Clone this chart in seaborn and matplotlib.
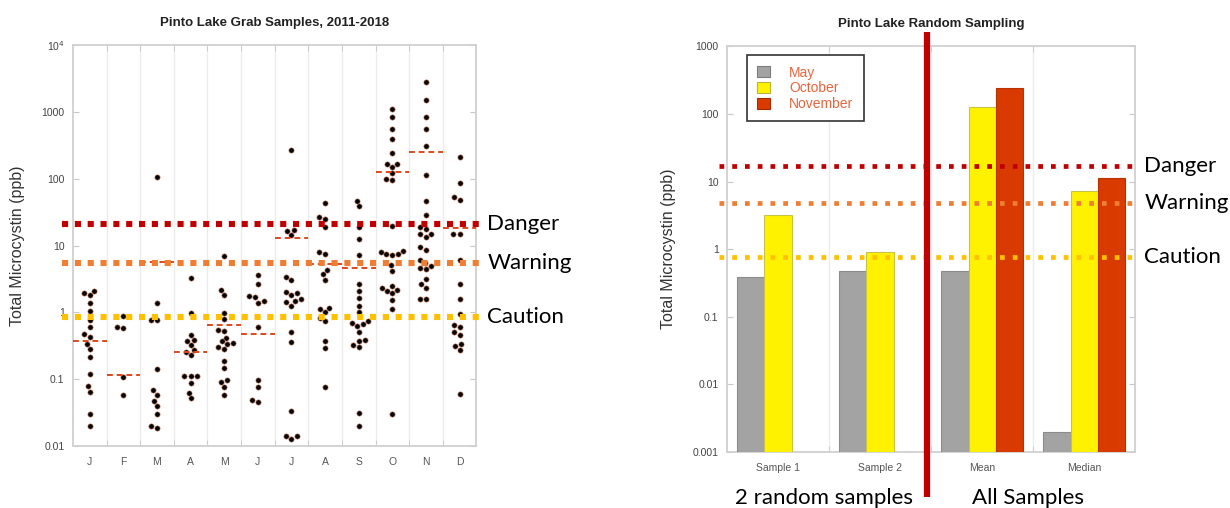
import numpy as np
import pandas as pd
import matplotlib.pyplot as plt
import seaborn as sns
from matplotlib.ticker import FixedLocator, NullLocator
from matplotlib.transforms import blended_transform_factory

# ---- left panel: grab samples per month (ppb) ----
month_keys = ['Jan', 'Feb', 'Mar', 'Apr', 'May', 'Jun', 'Jul', 'Aug', 'Sep', 'Oct', 'Nov', 'Dec']
month_letters = ['J', 'F', 'M', 'A', 'M', 'J', 'J', 'A', 'S', 'O', 'N', 'D']

jan = [2.09, 1.06, 0.43, 0.079, 1.93, 1.36, 0.77, 0.47, 0.335, 0.216, 0.119, 0.065, 0.030, 0.020, 1.82, 0.60, 0.28]
feb = [0.89, 0.575, 0.60, 0.108, 0.059]
mar = [105, 1.36, 0.77, 0.77, 0.14, 0.068, 0.040, 0.048, 0.059, 0.030, 0.0186, 0.020]
apr = [3.24, 0.97, 0.46, 0.376, 0.38, 0.32, 0.257, 0.27, 0.23, 0.111, 0.112, 0.11, 0.089, 0.063, 0.052]
may = [7.1, 1.82, 2.16, 0.99, 0.81, 0.42, 0.53, 0.54, 0.335, 0.35, 0.37, 0.28, 0.30, 0.19, 0.145, 0.077,
       0.091, 0.098, 0.059]
jun = [3.63, 2.66, 1.68, 1.75, 1.40, 1.47, 0.60, 0.099, 0.077, 0.045, 0.049]
jul = [267, 17.3, 14.4, 16.7, 3.43, 3.05, 2.04, 1.93, 1.82, 1.58, 1.48, 1.41, 1.26, 0.51, 0.363, 0.033,
       0.014, 0.0127, 0.014]
aug = [25, 43.5, 26.5, 19, 7.5, 8.0, 3.7, 4.3, 3.05, 1.11, 1.0, 1.15, 0.74, 0.83, 0.376, 0.29, 0.077]
sep = [47, 38.7, 18.7, 12.6, 7.2, 2.66, 2.11, 1.66, 1.24, 1.0, 0.74, 0.70, 0.66, 0.62, 0.51, 0.376, 0.39,
       0.30, 0.32, 0.031, 0.020]
oct_ = [1127, 846, 562, 396, 244, 167, 151, 169, 101, 95, 122, 20, 7.4, 8.1, 7.2, 8.4, 7.5, 5.1, 4.2,
        2.16, 2.34, 1.93, 2.48, 2.09, 1.53, 1.11, 0.030]
nov = [2840, 1500, 846, 562, 307, 116, 47, 28.8, 15, 17.9, 19, 14.7, 13.6, 9.4, 8.7, 5.0, 5.4, 6.0, 4.4,
       4.7, 3.16, 2.34, 2.66, 1.58, 1.58]
dec = [213, 86, 48, 53.5, 15, 15, 6.1, 2.66, 1.57, 0.94, 0.65, 0.61, 0.51, 0.46, 0.335, 0.31, 0.27, 0.060]

monthly_median = [0.37, 0.117, 5.6, 0.257, 0.645, 0.48, 13.0, 5.3, 4.7, 127, 250, 18.4]

# thresholds as drawn on each panel
left_thresholds = [21, 5.4, 0.85]
right_thresholds = [16.8, 4.76, 0.76]
threshold_names = ['Danger', 'Warning', 'Caution']
threshold_colors = ['#c00000', '#ef7d32', '#ffc000']

# ---- right panel: random sampling ----
stats = ['Sample 1', 'Sample 2', 'Mean', 'Median']
may_vals = [0.385, 0.47, 0.47, 0.002]
october_vals = [3.2, 0.90, 125, 7.2]
november_vals = [np.nan, np.nan, 238, 11.1]
sample_months = ['May', 'October', 'November']

all_months = [jan, feb, mar, apr, may, jun, jul, aug, sep, oct_, nov, dec]
grab = pd.DataFrame({
    'month': [k for k, v in zip(month_keys, all_months) for _ in v],
    'mcy': [x for v in all_months for x in v],
})
rand = pd.DataFrame({
    'stat': stats * 3,
    'month': [m for m in sample_months for _ in stats],
    'value': may_vals + october_vals + november_vals,
})

sns.set_style('white')
plt.rcParams['font.family'] = ['Liberation Sans', 'DejaVu Sans']

fig = plt.figure(figsize=(12.3, 5.08), dpi=100)
ax1 = fig.add_axes([0.0593, 0.122, 0.328, 0.789])
ax2 = fig.add_axes([0.591, 0.110, 0.332, 0.799])

label_font = dict(family='Lato', fontsize=16, color='black')


def style_axes(ax, n, ylo, yhi, yticks, ylabels):
    ax.set_yscale('log')
    ax.set_ylim(ylo, yhi)
    ax.set_xlim(-0.5, n - 0.5)
    ax.set_yticks(yticks)
    ax.set_yticklabels(ylabels)
    ax.yaxis.set_minor_locator(NullLocator())
    ax.xaxis.set_minor_locator(FixedLocator(np.arange(n - 1) + 0.5))
    ax.grid(which='minor', axis='x', color='#ececec', lw=1)
    ax.grid(which='major', visible=False)
    for s in ax.spines.values():
        s.set_color('#d0d0d0')
        s.set_linewidth(1.3)
    ax.tick_params(axis='x', which='major', length=0, labelsize=7.5, labelcolor='#555555', pad=8)
    ax.tick_params(axis='x', which='minor', direction='in', length=4, top=True, bottom=True,
                   color='#c8c8c8')
    ax.tick_params(axis='y', which='major', direction='in', length=4, left=True, right=True,
                   color='#c8c8c8', labelsize=7.5, labelcolor='#444444', pad=6)
    ax.set_xlabel('')
    ax.set_ylabel('Total Microcystin (ppb)', fontsize=11.5, color='#333333', labelpad=12)


def thresholds(ax, values, x0, x1, lw, gap, tx):
    tr = blended_transform_factory(ax.transAxes, ax.transData)
    for v, name, c in zip(values, threshold_names, threshold_colors):
        ax.plot([x0, x1], [v, v], transform=tr, color=c, lw=lw, ls=(0, (1, gap)),
                dash_capstyle='butt', clip_on=False, zorder=5)
        ax.text(tx, v, name, transform=tr, va='center', ha='left', **label_font)


# left panel
sns.swarmplot(data=grab, x='month', y='mcy', order=month_keys, log_scale=True, size=3.8,
              color='black', edgecolor='#c87858', linewidth=0.4, ax=ax1, zorder=3)
xs = np.arange(len(month_keys))
ax1.hlines(monthly_median, xs - 0.5, xs + 0.5, colors='#e0481c', linestyles=(0, (3, 2)), lw=1.4, zorder=4)
style_axes(ax1, 12, 0.01, 1e4, [0.01, 0.1, 1, 10, 100, 1000, 1e4],
           ['0.01', '0.1', '1', '10', '100', '1000', r'10$^4$'])
ax1.set_xticks(xs)
ax1.set_xticklabels(month_letters)
ax1.set_title('Pinto Lake Grab Samples, 2011-2018', fontsize=9.5, fontweight='bold', color='#222222', pad=14)
thresholds(ax1, left_thresholds, -0.027, 1.01, 4.4, 1.1, 1.027)

# right panel
sns.barplot(data=rand, x='stat', y='value', hue='month', order=stats, hue_order=sample_months,
            palette=['#a3a3a3', '#fff200', '#d83a00'], saturation=1, errorbar=None, width=0.8,
            log_scale=True, ax=ax2, zorder=3)
for cont, ec in zip(ax2.containers, ['#8c8c8c', '#c9c24a', '#b83200']):
    for bar in cont:
        bar.set_edgecolor(ec)
        bar.set_linewidth(0.8)
style_axes(ax2, 4, 0.001, 1000, [0.001, 0.01, 0.1, 1, 10, 100, 1000],
           ['0.001', '0.01', '0.1', '1', '10', '100', '1000'])
ax2.set_title('Pinto Lake Random Sampling', fontsize=9.5, fontweight='bold', color='#222222', pad=14)
leg = ax2.legend(loc='upper left', bbox_to_anchor=(0.049, 0.978), frameon=True, fancybox=False,
                 edgecolor='#333333', framealpha=1, fontsize=10, labelcolor='#e8643c',
                 handlelength=0.9, handleheight=0.85, handletextpad=1.4, labelspacing=0.12,
                 borderpad=0.75, borderaxespad=0)
leg.get_frame().set_linewidth(1.2)
for h, ec in zip(leg.legend_handles, ['#7c7c7c', '#b9b23a', '#a82a00']):
    h.set_edgecolor(ec)
    h.set_linewidth(0.8)
thresholds(ax2, right_thresholds, -0.02, 1.005, 3.4, 1.7, 1.022)

# separator and group captions
ax2.axvline(1.46, ymin=-0.111, ymax=1.034, color='#c00000', lw=4.5, clip_on=False, zorder=6,
            solid_capstyle='butt')
tr2 = blended_transform_factory(ax2.transData, ax2.transAxes)
ax2.text(0.45, -0.113, '2 random samples', transform=tr2, ha='center', va='center', **label_font)
ax2.text(2.45, -0.113, 'All Samples', transform=tr2, ha='center', va='center', **label_font)

fig.savefig('out.png', dpi=100)
